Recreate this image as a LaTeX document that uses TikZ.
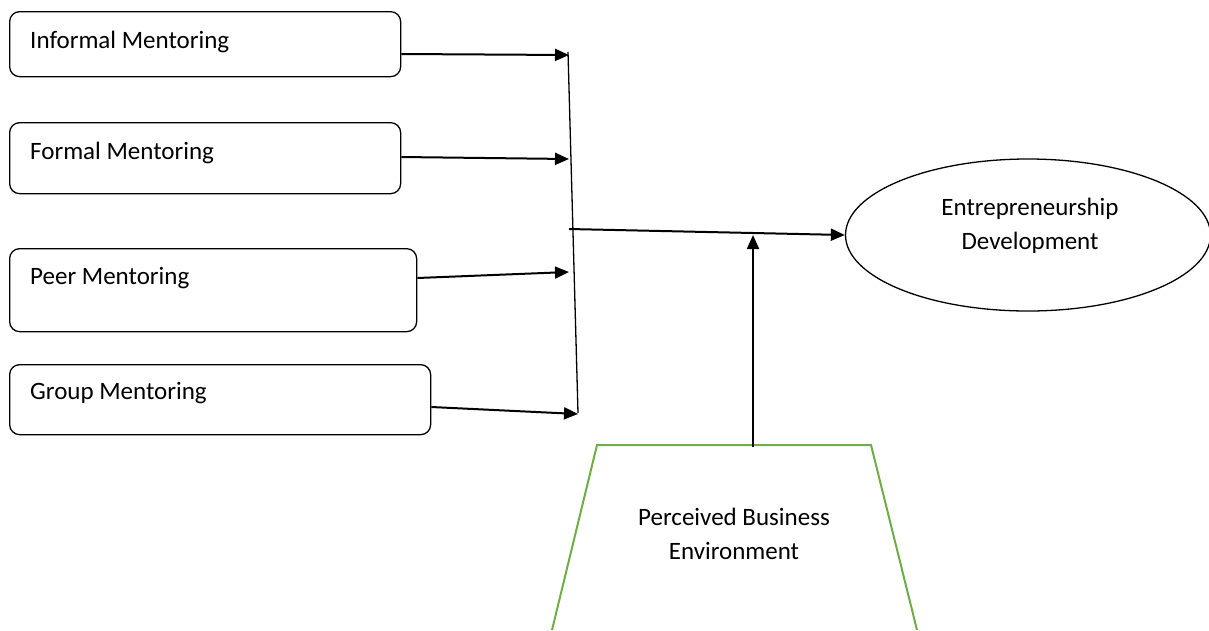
\documentclass[tikz,border=0pt]{standalone}
\usepackage{fontspec}
\setmainfont{Carlito}
\usetikzlibrary{arrows.meta,shapes.geometric,calc}
\definecolor{pbgreen}{RGB}{112,173,71}
\tikzset{
  box/.style={draw=black, line width=1.3pt, rounded corners=10pt, anchor=north west, inner sep=0pt},
  txt/.style={font=\fontsize{25}{30}\selectfont, inner sep=0pt, anchor=base west},
  ctxt/.style={font=\fontsize{25}{34}\selectfont, inner sep=0pt, align=center},
  arr/.style={line width=2pt, -{Triangle[length=14pt,width=12pt]}},
  thin/.style={line width=1.3pt}
}
\begin{document}
\begin{tikzpicture}[x=1pt,y=-1pt]
\useasboundingbox (0,0) rectangle (1209,630);
% boxes
\node[box, minimum width=391pt, minimum height=65pt] (b1) at (9,11) {};
\node[txt] (t1) at (30,48) {Informal Mentoring};
\node[box, minimum width=391pt, minimum height=71pt] (b2) at (9,122) {};
\node[txt] (t2) at (30,159) {Formal Mentoring};
\node[box, minimum width=407pt, minimum height=83pt] (b3) at (9,248) {};
\node[txt] (t3) at (30,284) {Peer Mentoring};
\node[box, minimum width=421pt, minimum height=70pt] (b4) at (9,364) {};
\node[txt] (t4) at (30,399) {Group Mentoring};
% collector line
\coordinate (ctop) at (568,52);
\coordinate (cbot) at (578,413);
\draw[thin] (ctop) -- (cbot);
% arrows into collector
\coordinate (a1) at (569,55);
\coordinate (a2) at (569,159);
\coordinate (a3) at (569,272);
\coordinate (a4) at (578,414);
\draw[arr] (b1.east |- 0,54) -- (a1);
\draw[arr] (b2.east |- 0,157) -- (a2);
\draw[arr] (b3.east |- 0,278) -- (a3);
\draw[arr] (b4.east |- 0,407) -- (a4);
% ellipse
\node[draw=black, line width=1.3pt, ellipse, minimum width=365pt, minimum height=152pt, inner sep=0pt] (ed) at (1028,235) {};
\node[ctxt] (edt) at (1030,226) {Entrepreneurship\\Development};
% main arrow
\coordinate (mstart) at (569,229);
\draw[arr] (mstart) -- (ed.west);
% trapezoid
\coordinate (tbl) at (552,630);
\coordinate (ttl) at (597,445);
\coordinate (ttr) at (871,445);
\coordinate (tbr) at (917,630);
\draw[pbgreen, line width=2pt] (tbl) -- (ttl) -- (ttr) -- (tbr);
\node[ctxt] (pbe) at (734,534) {Perceived Business\\Environment};
% moderating arrow
\coordinate (mtop) at (753,235);
\coordinate (mbot) at (753,447);
\draw[arr] (mbot) -- (mtop);
\end{tikzpicture}
\end{document}
